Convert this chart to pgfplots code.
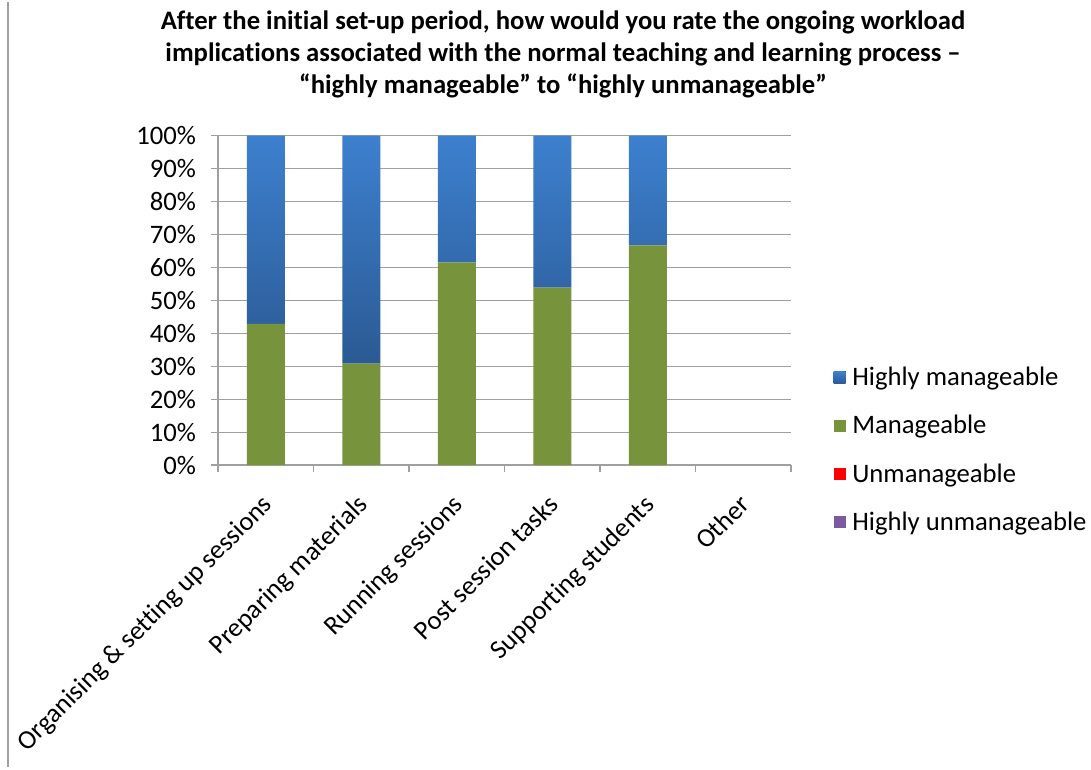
\documentclass[border=0pt]{standalone}
\usepackage{fontspec}
\setmainfont{Carlito}[Ligatures=NoCommon]
\usepackage{pgfplots}
\pgfplotsset{compat=1.18}
\definecolor{hmtop}{HTML}{3D80CF}
\definecolor{hmbot}{HTML}{2B5A94}
\definecolor{mgreen}{HTML}{77933C}
\definecolor{ured}{HTML}{FF0000}
\definecolor{hupurple}{HTML}{7B5AA0}
\definecolor{axgray}{HTML}{A0A0A0}
\begin{document}
\begin{tikzpicture}[x=0.75pt,y=0.75pt]
\path[use as bounding box] (0,0) rectangle (1091,-769);
\draw[axgray, line width=1pt] (8,-2) -- (8,-767);
\node[font=\bfseries\fontsize{20}{24}\selectfont, align=center] at (563,-54)
  {After the initial set-up period, how would you rate the ongoing workload\\
   implications associated with the normal teaching and learning process –\\
   “highly manageable” to “highly unmanageable”};
\coordinate (O) at (218,-465);
\begin{axis}[
  at={(O)}, anchor=south west,
  scale only axis, width=429.75pt, height=247pt,
  xmin=-0.5, xmax=5.5, ymin=0, ymax=100,
  axis x line*=bottom, axis y line*=left,
  axis line style={draw=axgray, line width=0.8pt},
  ytick={0,10,...,100},
  yticklabel={\pgfmathprintnumber{\tick}\%},
  /pgf/number format/assume math mode=true,
  ymajorgrids, grid style={draw=axgray, line width=0.8pt},
  xtick={0,...,5},
  xticklabels={Organising \& setting up sessions, Preparing materials, Running sessions, Post session tasks, Supporting students, Other},
  minor xtick={-0.5,0.5,...,5.5},
  major x tick style={draw=none},
  minor x tick style={draw=axgray, line width=0.8pt},
  major y tick style={draw=axgray, line width=0.8pt},
  tick align=outside, major tick length=5pt, minor tick length=5pt,
  yticklabel style={font=\fontsize{20}{24}\selectfont, xshift=-8pt},
  xticklabel style={font=\fontsize{20}{24}\selectfont, xshift=-4pt, yshift=-13pt, rotate=45, anchor=north east, inner sep=2pt},
  ybar stacked, bar width=28.5pt,
  legend style={draw=none, fill=none, at={(axis description cs:1.074,0.306)}, anchor=north west,
    font=\fontsize{20}{24}\selectfont, row sep=16.8pt, inner sep=0pt, cells={anchor=west}},
  legend image code/.code={\fill[#1] (0pt,-4.5pt) rectangle (9pt,4.5pt); \path (12pt,0pt);},
  reverse legend,
]
\addplot[draw=none, fill=hupurple] coordinates {(0,0) (1,0) (2,0) (3,0) (4,0)};
\addplot[draw=none, fill=ured] coordinates {(0,0) (1,0) (2,0) (3,0) (4,0)};
\addplot[draw=none, fill=mgreen] coordinates {(0,42.86) (1,30.77) (2,61.54) (3,53.85) (4,66.67)};
\addplot[draw=none, top color=hmtop, bottom color=hmbot] coordinates {(0,57.14) (1,69.23) (2,38.46) (3,46.15) (4,33.33)};
\legend{Highly unmanageable, Unmanageable, Manageable, Highly manageable}
\end{axis}
\end{tikzpicture}
\end{document}
